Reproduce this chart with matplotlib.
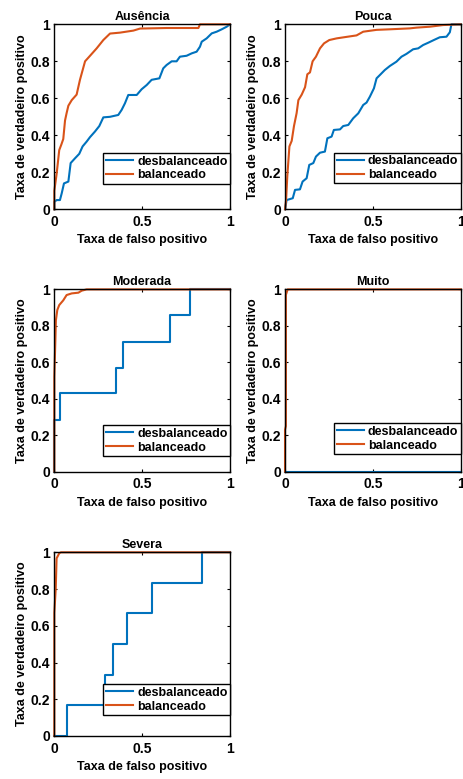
import matplotlib
matplotlib.use('Agg')
import matplotlib.pyplot as plt

plt.rcParams['font.family'] = ['Liberation Sans', 'DejaVu Sans']
plt.rcParams['font.weight'] = 'bold'
plt.rcParams['font.size'] = 9

BLUE = '#0072BD'
RED = '#D95319'

titles = ['Ausência', 'Pouca', 'Moderada', 'Muito', 'Severa']
labels = ['desbalanceado', 'balanceado']

# Ausência
aus_fpr_desb = [0, 0.0, 0.013, 0.032, 0.042, 0.055, 0.080, 0.093, 0.118, 0.142, 0.161, 0.184, 0.203, 0.231,
                0.256, 0.279, 0.317, 0.364, 0.383, 0.402, 0.421, 0.469, 0.497, 0.526, 0.554, 0.598, 0.620,
                0.639, 0.668, 0.696, 0.715, 0.753, 0.782, 0.810, 0.829, 0.839, 0.867, 0.896, 0.924, 0.953,
                0.981, 1.0]
aus_tpr_desb = [0, 0.04, 0.05, 0.05, 0.086, 0.14, 0.15, 0.25, 0.276, 0.30, 0.34, 0.366, 0.39, 0.42,
                0.45, 0.497, 0.50, 0.51, 0.537, 0.573, 0.618, 0.618, 0.649, 0.672, 0.70, 0.708, 0.762,
                0.78, 0.80, 0.80, 0.825, 0.83, 0.843, 0.852, 0.879, 0.906, 0.924, 0.951, 0.96, 0.973,
                0.987, 1.0]
aus_fpr_bal = [0, 0, 0.013, 0.02, 0.028, 0.04, 0.051, 0.061, 0.07, 0.08, 0.099, 0.127, 0.146, 0.175,
               0.194, 0.241, 0.279, 0.317, 0.374, 0.45, 0.488, 0.639, 0.82, 0.829, 1.0]
aus_tpr_bal = [0, 0.1, 0.19, 0.25, 0.32, 0.35, 0.38, 0.48, 0.52, 0.56, 0.59, 0.62, 0.70, 0.80,
               0.82, 0.87, 0.915, 0.95, 0.955, 0.966, 0.977, 0.98, 0.98, 1.0, 1.0]

# Pouca
pou_fpr_desb = [0, 0.009, 0.044, 0.057, 0.085, 0.100, 0.123, 0.138, 0.161, 0.176, 0.199, 0.227, 0.241,
                0.265, 0.278, 0.313, 0.331, 0.360, 0.388, 0.417, 0.445, 0.464, 0.483, 0.506, 0.521,
                0.540, 0.568, 0.597, 0.634, 0.663, 0.691, 0.729, 0.758, 0.786, 0.814, 0.847, 0.881,
                0.919, 0.938, 0.947, 1.0]
pou_tpr_desb = [0, 0.05, 0.06, 0.105, 0.108, 0.15, 0.168, 0.24, 0.25, 0.285, 0.306, 0.312, 0.384,
                0.393, 0.429, 0.432, 0.45, 0.456, 0.492, 0.519, 0.564, 0.577, 0.609, 0.654, 0.708,
                0.726, 0.753, 0.775, 0.798, 0.825, 0.84, 0.865, 0.87, 0.888, 0.90, 0.915, 0.93,
                0.933, 0.957, 1.0, 1.0]
pou_fpr_bal = [0, 0.006, 0.013, 0.025, 0.038, 0.051, 0.066, 0.076, 0.095, 0.114, 0.127, 0.142, 0.157,
               0.176, 0.199, 0.222, 0.252, 0.294, 0.350, 0.407, 0.445, 0.521, 0.597, 0.710, 0.748,
               0.824, 0.900, 1.0]
pou_tpr_bal = [0, 0.05, 0.18, 0.34, 0.37, 0.45, 0.52, 0.59, 0.62, 0.66, 0.73, 0.74, 0.80,
               0.825, 0.87, 0.897, 0.915, 0.924, 0.932, 0.94, 0.96, 0.97, 0.973, 0.978, 0.982,
               0.987, 0.996, 1.0]

# Moderada
mod_fpr_desb = [0, 0, 0.032, 0.032, 0.349, 0.349, 0.389, 0.389, 0.658, 0.658, 0.772, 0.772, 1.0]
mod_tpr_desb = [0, 0.286, 0.286, 0.429, 0.429, 0.571, 0.571, 0.714, 0.714, 0.857, 0.857, 1.0, 1.0]
mod_fpr_bal = [0, 0, 0.006, 0.009, 0.017, 0.028, 0.051, 0.070, 0.099, 0.137, 0.156, 0.184, 1.0]
mod_tpr_bal = [0, 0.52, 0.72, 0.83, 0.887, 0.914, 0.94, 0.969, 0.978, 0.982, 0.993, 1.0, 1.0]

# Muito
mui_fpr_desb = [0, 1.0]
mui_tpr_desb = [0, 0]
mui_fpr_bal = [0, 0, 0.005, 0.005, 0.015, 1.0]
mui_tpr_bal = [0, 0.23, 0.25, 0.97, 1.0, 1.0]

# Severa
sev_fpr_desb = [0, 0.070, 0.070, 0.288, 0.288, 0.332, 0.332, 0.412, 0.412, 0.554, 0.554, 0.842, 0.842, 1.0]
sev_tpr_desb = [0, 0, 0.167, 0.167, 0.333, 0.333, 0.5, 0.5, 0.667, 0.667, 0.833, 0.833, 1.0, 1.0]
sev_fpr_bal = [0, 0, 0.008, 0.013, 0.028, 0.038, 1.0]
sev_tpr_bal = [0, 0.67, 0.8, 0.967, 0.995, 1.0, 1.0]

curves = [
    (aus_fpr_desb, aus_tpr_desb, aus_fpr_bal, aus_tpr_bal),
    (pou_fpr_desb, pou_tpr_desb, pou_fpr_bal, pou_tpr_bal),
    (mod_fpr_desb, mod_tpr_desb, mod_fpr_bal, mod_tpr_bal),
    (mui_fpr_desb, mui_tpr_desb, mui_fpr_bal, mui_tpr_bal),
    (sev_fpr_desb, sev_tpr_desb, sev_fpr_bal, sev_tpr_bal),
]

# posicoes dos eixos (em fracao da figura) e altura da legenda
positions = [
    [0.1173, 0.7313, 0.3795, 0.2375],
    [0.6156, 0.7313, 0.3795, 0.2375],
    [0.1173, 0.3945, 0.3795, 0.2340],
    [0.6156, 0.3945, 0.3795, 0.2340],
    [0.1173, 0.0552, 0.3795, 0.2358],
]
legend_y = [0.137, 0.14, 0.086, 0.097, 0.114]

fig = plt.figure(figsize=(4.63, 7.79), dpi=100)

for i, (fd, td, fb, tb) in enumerate(curves):
    ax = fig.add_axes(positions[i])
    ax.plot(fd, td, color=BLUE, linewidth=1.5, label=labels[0], clip_on=False)
    ax.plot(fb, tb, color=RED, linewidth=1.5, label=labels[1], clip_on=False)
    ax.set_xlim(0, 1)
    ax.set_ylim(0, 1)
    ax.set_xticks([0, 0.5, 1])
    ax.set_xticklabels(['0', '0.5', '1'])
    ax.set_yticks([0, 0.2, 0.4, 0.6, 0.8, 1])
    ax.set_yticklabels(['0', '0.2', '0.4', '0.6', '0.8', '1'])
    ax.tick_params(direction='in', length=2.5, width=0.8, top=True, right=True, labelsize=10)
    ax.tick_params(axis='x', pad=4)
    ax.tick_params(axis='y', pad=3)
    for s in ax.spines.values():
        s.set_linewidth(1.0)
    ax.set_title(titles[i], fontsize=9, fontweight='bold', pad=3)
    ax.set_xlabel('Taxa de falso positivo', fontsize=9, fontweight='bold', labelpad=4)
    ax.set_ylabel('Taxa de verdadeiro positivo', fontsize=9, fontweight='bold', labelpad=2)
    leg = ax.legend(loc='lower right', bbox_to_anchor=(1.0, legend_y[i]), borderaxespad=0,
                    fontsize=9, fancybox=False, framealpha=1, edgecolor='black',
                    handlelength=2.2, handletextpad=0.3, borderpad=0.2, labelspacing=0.15)
    leg.get_frame().set_linewidth(1.0)

plt.savefig('out.png', dpi=100)
plt.close()
